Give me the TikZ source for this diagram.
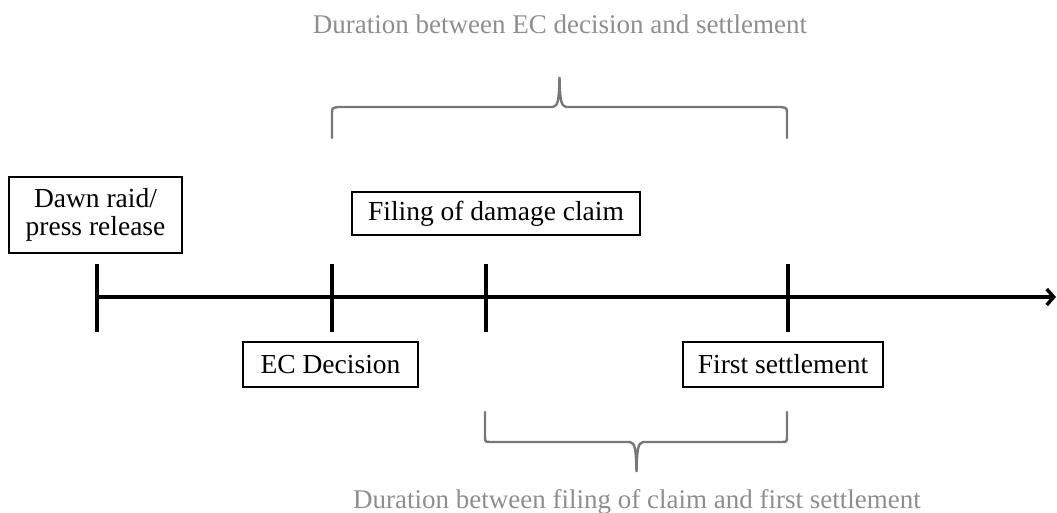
\documentclass[tikz,border=0pt]{standalone}
\usepackage{fontspec}
\setmainfont{Liberation Serif}
\usetikzlibrary{arrows.meta}
\definecolor{bracegray}{HTML}{75787B}
\definecolor{notegray}{HTML}{8E8E8E}
\begin{document}
\begin{tikzpicture}[x=1pt,y=-1pt,
  lbl/.style={draw=black,line width=2.6pt,inner sep=0pt,font=\fontsize{27.5}{28}\selectfont,align=center,fill=white},
  tick/.style={line width=3.5pt},
  brace/.style={draw=bracegray,line width=2.4pt,line cap=round},
  note/.style={text=notegray,font=\fontsize{27}{30}\selectfont,anchor=base}]
\useasboundingbox (0,0) rectangle (1057,512);
% timeline
\coordinate (t0) at (97,297);
\coordinate (tend) at (1056,297);
\draw[line width=3.5pt,-{Straight Barb[length=7pt,width=16pt,line width=3.5pt]}] (t0) -- (tend);
\foreach \n/\x in {a/97,b/332,c/486,d/788}{
  \coordinate (\n top) at (\x,264);
  \coordinate (\n bot) at (\x,332);
  \draw[tick] (\n top) -- (\n bot);
}
% boxes
\node[lbl,minimum width=173pt,minimum height=76pt] (dawn) at (95.5,215) {Dawn raid/\\press release};
\node[lbl,minimum width=288pt,minimum height=43pt] (filing) at (496,213.5) {Filing of damage claim};
\node[lbl,minimum width=175pt,minimum height=45pt] (ec) at (330.5,364.5) {EC Decision};
\node[lbl,minimum width=200pt,minimum height=45pt] (first) at (783,364.5) {First settlement};
% top brace
\draw[brace] (332,138) -- (332,114) .. controls (332,108) .. (338,107) -- (553,107)
  .. controls (558,106) and (559,100) .. (559.5,77)
  .. controls (560,100) and (561,106) .. (566,107) -- (781,107)
  .. controls (787,108) .. (787,114) -- (787,138);
\node[note] (topnote) at (560,33) {Duration between EC decision and settlement};
% bottom brace
\draw[brace] (485,412) -- (485,436) .. controls (485,442) .. (491,442) -- (630,442)
  .. controls (635,443) and (636,449) .. (636.5,472)
  .. controls (637,449) and (638,443) .. (643,442) -- (781,442)
  .. controls (787,442) .. (787,436) -- (787,412);
\node[note] (botnote) at (637,508) {Duration between filing of claim and first settlement};
\end{tikzpicture}
\end{document}
